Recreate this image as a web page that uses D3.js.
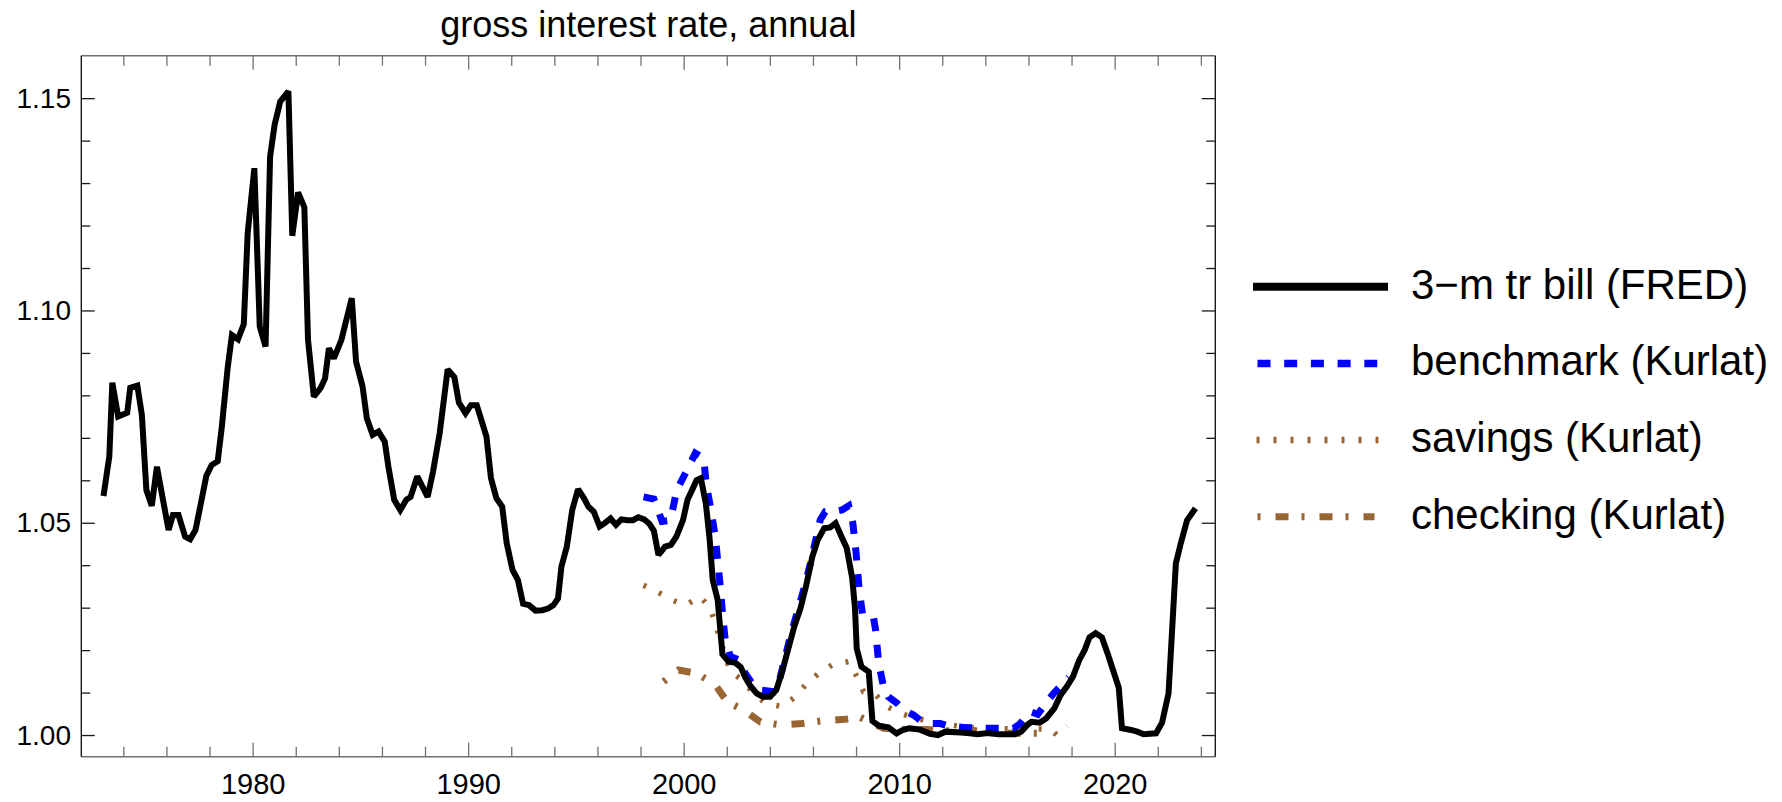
<!DOCTYPE html>
<html>

<head>
    <meta charset="utf-8">
    <script src="https://d3js.org/d3.v7.min.js"></script>
    <style>
        body {
            margin: 0;
            background: #fff;
            overflow: hidden;
        }

        svg text {
            font-family: "Liberation Sans", Arial, sans-serif;
            fill: #000;
        }

        .series {
            fill: none;
            stroke-linecap: butt;
            stroke-linejoin: miter;
            stroke-miterlimit: 2;
        }
    </style>
</head>

<body>
    <svg id="chart" width="1782" height="802"></svg>
    <script>
        // data: [year, gross annual rate]
        var billFred = [
            [1973.08, 1.0563], [1973.35, 1.0656], [1973.49, 1.0830], [1973.76, 1.0750], [1974.18, 1.0759],
            [1974.32, 1.0818], [1974.65, 1.0823], [1974.86, 1.0754], [1975.07, 1.0577], [1975.32, 1.0540],
            [1975.56, 1.0632], [1975.84, 1.0554], [1976.10, 1.0483], [1976.30, 1.0518], [1976.56, 1.0518],
            [1976.87, 1.0467], [1977.10, 1.0461], [1977.35, 1.0483], [1977.60, 1.0546], [1977.85, 1.0610],
            [1978.10, 1.0636], [1978.38, 1.0645], [1978.57, 1.0726], [1978.84, 1.0864], [1979.04, 1.0942],
            [1979.32, 1.0932], [1979.59, 1.0968], [1979.77, 1.1182], [1980.08, 1.1335], [1980.33, 1.0962],
            [1980.60, 1.0915], [1980.81, 1.1362], [1981.02, 1.1437], [1981.28, 1.1492], [1981.66, 1.1516],
            [1981.84, 1.1176], [1982.11, 1.1278], [1982.40, 1.1243], [1982.57, 1.0931], [1982.84, 1.0797],
            [1983.15, 1.0817], [1983.36, 1.0840], [1983.54, 1.0911], [1983.77, 1.0887], [1984.12, 1.0931],
            [1984.60, 1.1029], [1984.80, 1.0879], [1985.10, 1.0821], [1985.30, 1.0746], [1985.57, 1.0707],
            [1985.84, 1.0715], [1986.13, 1.0691], [1986.30, 1.0632], [1986.57, 1.0554], [1986.85, 1.0530],
            [1987.13, 1.0554], [1987.33, 1.0561], [1987.64, 1.0609], [1988.12, 1.0561], [1988.37, 1.0620],
            [1988.68, 1.0711], [1989.05, 1.0861], [1989.36, 1.0843], [1989.57, 1.0783], [1989.88, 1.0758],
            [1990.13, 1.0777], [1990.40, 1.0777], [1990.54, 1.0754], [1990.85, 1.0703], [1991.06, 1.0605],
            [1991.31, 1.0558], [1991.58, 1.0538], [1991.79, 1.0452], [1992.06, 1.0389], [1992.31, 1.0365],
            [1992.55, 1.0309], [1992.82, 1.0306], [1993.13, 1.0293], [1993.44, 1.0294], [1993.71, 1.0298],
            [1993.96, 1.0306], [1994.17, 1.0322], [1994.33, 1.0397], [1994.58, 1.0444], [1994.83, 1.0530],
            [1995.10, 1.0579], [1995.37, 1.0558], [1995.58, 1.0538], [1995.83, 1.0526], [1996.10, 1.0491],
            [1996.34, 1.0499], [1996.61, 1.0510], [1996.86, 1.0495], [1997.11, 1.0508], [1997.38, 1.0506],
            [1997.65, 1.0506], [1997.90, 1.0513], [1998.17, 1.0508], [1998.42, 1.0497], [1998.62, 1.0481],
            [1998.83, 1.0424], [1999.14, 1.0444], [1999.41, 1.0448], [1999.66, 1.0467], [1999.97, 1.0506],
            [2000.18, 1.0554], [2000.40, 1.0578], [2000.60, 1.0600], [2000.80, 1.0605], [2001.03, 1.0545],
            [2001.20, 1.0465], [2001.35, 1.0365], [2001.58, 1.0318], [2001.80, 1.0190], [2002.08, 1.0173],
            [2002.40, 1.0170], [2002.65, 1.0160], [2002.86, 1.0136], [2003.09, 1.0116], [2003.39, 1.0098],
            [2003.67, 1.0090], [2004.01, 1.0090], [2004.30, 1.0106], [2004.59, 1.0153], [2004.88, 1.0208],
            [2005.13, 1.0255], [2005.42, 1.0298], [2005.69, 1.0353], [2005.97, 1.0420], [2006.22, 1.0459],
            [2006.52, 1.0487], [2006.80, 1.0489], [2007.05, 1.0499], [2007.29, 1.0471], [2007.57, 1.0440],
            [2007.82, 1.0370], [2007.95, 1.0300], [2008.03, 1.0204], [2008.25, 1.0161], [2008.59, 1.0149],
            [2008.76, 1.0033], [2009.05, 1.0022], [2009.50, 1.0018], [2009.88, 1.0004], [2010.17, 1.0012],
            [2010.46, 1.0016], [2010.94, 1.0013], [2011.43, 1.0003], [2011.80, 1.0000], [2012.15, 1.0008],
            [2012.87, 1.0006], [2013.26, 1.0004], [2013.64, 1.0002], [2014.12, 1.0005], [2014.60, 1.0002],
            [2015.37, 1.0002], [2015.66, 1.0008], [2015.95, 1.0024], [2016.14, 1.0031], [2016.52, 1.0029],
            [2016.82, 1.0039], [2017.20, 1.0063], [2017.49, 1.0094], [2017.78, 1.0114], [2018.06, 1.0137],
            [2018.36, 1.0177], [2018.60, 1.0199], [2018.83, 1.0230], [2019.12, 1.0240], [2019.41, 1.0230],
            [2019.70, 1.0188], [2019.95, 1.0149], [2020.19, 1.0112], [2020.34, 1.0016], [2020.76, 1.0012],
            [2021.05, 1.0008], [2021.34, 1.0002], [2021.92, 1.0004], [2022.20, 1.0029], [2022.50, 1.0098],
            [2022.84, 1.0404], [2023.07, 1.0452], [2023.36, 1.0506], [2023.75, 1.0534]
        ];

        var benchmark = [
            [1998.14, 1.0561], [1998.62, 1.0556], [1999.00, 1.0503], [1999.39, 1.0506], [1999.68, 1.0577],
            [2000.16, 1.0624], [2000.54, 1.0664], [2000.93, 1.0652], [2001.05, 1.0590], [2001.24, 1.0538],
            [2001.47, 1.0467], [2001.70, 1.0349], [2001.83, 1.0271], [2001.93, 1.0224], [2002.17, 1.0185],
            [2002.55, 1.0177], [2002.86, 1.0145], [2003.17, 1.0122], [2003.56, 1.0106], [2004.18, 1.0102],
            [2004.41, 1.0122], [2004.64, 1.0169], [2004.95, 1.0232], [2005.26, 1.0287], [2005.57, 1.0342],
            [2005.88, 1.0404], [2006.11, 1.0455], [2006.34, 1.0507], [2006.57, 1.0526], [2006.96, 1.0526],
            [2007.35, 1.0530], [2007.66, 1.0540], [2007.85, 1.0500], [2008.00, 1.0430], [2008.15, 1.0340],
            [2008.30, 1.0285], [2008.80, 1.0280], [2008.90, 1.0250], [2009.05, 1.0170], [2009.25, 1.0120],
            [2009.50, 1.0090], [2009.90, 1.0075], [2010.21, 1.0059], [2010.67, 1.0047], [2010.98, 1.0035],
            [2011.29, 1.0027], [2011.91, 1.0027], [2012.37, 1.0020], [2012.99, 1.0018], [2013.92, 1.0016],
            [2014.85, 1.0016], [2015.31, 1.0016], [2015.62, 1.0027], [2016.08, 1.0055], [2016.43, 1.0049],
            [2016.85, 1.0078], [2017.20, 1.0100], [2017.63, 1.0122], [2017.87, 1.0136]
        ];

        var savings = [
            [1998.14, 1.0353], [1998.76, 1.0338], [1999.46, 1.0318], [2000.08, 1.0306], [2000.77, 1.0326],
            [2001.24, 1.0298], [2001.47, 1.0263], [2001.70, 1.0224], [2002.17, 1.0149], [2002.71, 1.0130],
            [2003.17, 1.0102], [2003.79, 1.0075], [2004.56, 1.0067], [2005.18, 1.0090], [2005.65, 1.0118],
            [2006.26, 1.0145], [2006.88, 1.0165], [2007.66, 1.0173], [2008.04, 1.0137], [2008.35, 1.0102],
            [2008.85, 1.0098], [2009.44, 1.0067], [2010.05, 1.0051], [2010.83, 1.0039], [2011.60, 1.0031],
            [2012.37, 1.0024], [2013.15, 1.0018], [2014.00, 1.0015], [2015.00, 1.0015], [2016.24, 1.0014],
            [2017.01, 1.0014], [2017.32, 1.0000], [2017.79, 1.0022]
        ];

        var checking = [
            [1999.07, 1.0126], [1999.77, 1.0153], [2000.62, 1.0145], [2001.47, 1.0118], [2002.01, 1.0079],
            [2002.78, 1.0059], [2003.56, 1.0031], [2004.49, 1.0024], [2005.49, 1.0027], [2006.50, 1.0034],
            [2007.50, 1.0037], [2007.90, 1.0040], [2008.10, 1.0044], [2008.70, 1.0030], [2009.28, 1.0016],
            [2010.29, 1.0013], [2011.29, 1.0013], [2012.22, 1.0010], [2013.15, 1.0013], [2014.31, 1.0005],
            [2015.31, 1.0004], [2016.55, 1.0004]
        ];

        var xMajorTicks = [1980, 1990, 2000, 2010, 2020];
        var xMinorTicks = d3.range(1974, 2025, 2).filter(v => v % 10 !== 0);
        var yMajorTicks = [1.00, 1.05, 1.10, 1.15];
        var yMinorTicks = d3.range(101, 115).filter(v => v % 5 !== 0).map(v => v / 100);

        var titleText = "gross interest rate, annual";

        var seriesList = [
            { name: "3\u2212m tr bill (FRED)", data: billFred, color: "#000000", width: 6, legendWidth: 8, dash: null, lx0: 1253, lx1: 1388 },
            { name: "benchmark (Kurlat)", data: benchmark, color: "#0000ff", width: 7, legendWidth: 7.5, dash: "13 13.7", lx0: 1257.5, lx1: 1377.5 },
            { name: "savings (Kurlat)", data: savings, color: "#996633", width: 5.5, legendWidth: 6.5, dash: "3 14", lx0: 1256.5, lx1: 1378.5 },
            { name: "checking (Kurlat)", data: checking, color: "#996633", width: 7, legendWidth: 7, dash: "3 15 13 13", lx0: 1257.5, lx1: 1374.5 }
        ];

        // plot frame
        var frame = { left: 81.3, right: 1215.3, top: 55.7, bottom: 756.7 };
        var hColor = "#707070";
        var vColor = "#1a1a1a";

        var svg = d3.select("#chart");

        var x = d3.scaleLinear().domain([1972.05, 2024.67]).range([frame.left, frame.right]);
        var y = d3.scaleLinear().domain([0.9949, 1.1600]).range([frame.bottom, frame.top]);

        function styleAxis(g, color, keepText) {
            g.select(".domain").remove();
            g.selectAll(".tick line").attr("stroke", color).attr("stroke-width", 1.3);
            if (!keepText) g.selectAll(".tick text").remove();
            g.attr("font-family", null).attr("font-size", null);
        }

        // x axes (bottom with labels, top mirrored)
        svg.append("g").attr("transform", `translate(0,${frame.bottom})`)
            .call(d3.axisBottom(x).tickValues(xMajorTicks).tickSizeInner(-14).tickSizeOuter(0)
                .tickPadding(17).tickFormat(d3.format("d")))
            .call(g => styleAxis(g, hColor, true))
            .selectAll("text").style("font-size", "29px");
        svg.append("g").attr("transform", `translate(0,${frame.bottom})`)
            .call(d3.axisBottom(x).tickValues(xMinorTicks).tickSizeInner(-10).tickSizeOuter(0))
            .call(g => styleAxis(g, hColor, false));
        svg.append("g").attr("transform", `translate(0,${frame.top})`)
            .call(d3.axisTop(x).tickValues(xMajorTicks).tickSizeInner(-14).tickSizeOuter(0))
            .call(g => styleAxis(g, hColor, false));
        svg.append("g").attr("transform", `translate(0,${frame.top})`)
            .call(d3.axisTop(x).tickValues(xMinorTicks).tickSizeInner(-10).tickSizeOuter(0))
            .call(g => styleAxis(g, hColor, false));

        // y axes (left with labels, right mirrored)
        svg.append("g").attr("transform", `translate(${frame.left},0)`)
            .call(d3.axisLeft(y).tickValues(yMajorTicks).tickSizeInner(-13.5).tickSizeOuter(0)
                .tickPadding(10.3).tickFormat(d3.format(".2f")))
            .call(g => styleAxis(g, vColor, true))
            .selectAll("text").style("font-size", "28px");
        svg.append("g").attr("transform", `translate(${frame.left},0)`)
            .call(d3.axisLeft(y).tickValues(yMinorTicks).tickSizeInner(-9).tickSizeOuter(0))
            .call(g => styleAxis(g, vColor, false));
        svg.append("g").attr("transform", `translate(${frame.right},0)`)
            .call(d3.axisRight(y).tickValues(yMajorTicks).tickSizeInner(-13.5).tickSizeOuter(0))
            .call(g => styleAxis(g, vColor, false));
        svg.append("g").attr("transform", `translate(${frame.right},0)`)
            .call(d3.axisRight(y).tickValues(yMinorTicks).tickSizeInner(-9).tickSizeOuter(0))
            .call(g => styleAxis(g, vColor, false));

        // frame lines
        var fg = svg.append("g").attr("stroke-width", 1.4);
        fg.append("line").attr("x1", frame.left).attr("x2", frame.right).attr("y1", frame.top).attr("y2", frame.top).attr("stroke", hColor);
        fg.append("line").attr("x1", frame.left).attr("x2", frame.right).attr("y1", frame.bottom).attr("y2", frame.bottom).attr("stroke", hColor);
        fg.append("line").attr("x1", frame.left).attr("x2", frame.left).attr("y1", frame.top).attr("y2", frame.bottom).attr("stroke", vColor);
        fg.append("line").attr("x1", frame.right).attr("x2", frame.right).attr("y1", frame.top).attr("y2", frame.bottom).attr("stroke", vColor);

        // series
        var line = d3.line().x(d => x(d[0])).y(d => y(d[1]));
        var lines = svg.append("g");
        seriesList.slice().reverse().forEach(s => {
            lines.append("path")
                .attr("class", "series")
                .attr("d", line(s.data))
                .attr("stroke", s.color)
                .attr("stroke-width", s.width)
                .attr("stroke-dasharray", s.dash);
        });

        // title
        svg.append("text")
            .attr("x", (frame.left + frame.right) / 2)
            .attr("y", 37.3)
            .attr("text-anchor", "middle")
            .style("font-size", "36px")
            .text(titleText);

        // legend
        var legend = svg.append("g");
        seriesList.forEach((s, i) => {
            var ly = 286.7 + i * 76.7;
            legend.append("line")
                .attr("x1", s.lx0).attr("x2", s.lx1)
                .attr("y1", ly).attr("y2", ly)
                .attr("stroke", s.color)
                .attr("stroke-width", s.legendWidth)
                .attr("stroke-dasharray", s.dash);
            legend.append("text")
                .attr("x", 1411)
                .attr("y", ly + 12)
                .style("font-size", "42px")
                .text(s.name);
        });
    </script>
</body>

</html>
